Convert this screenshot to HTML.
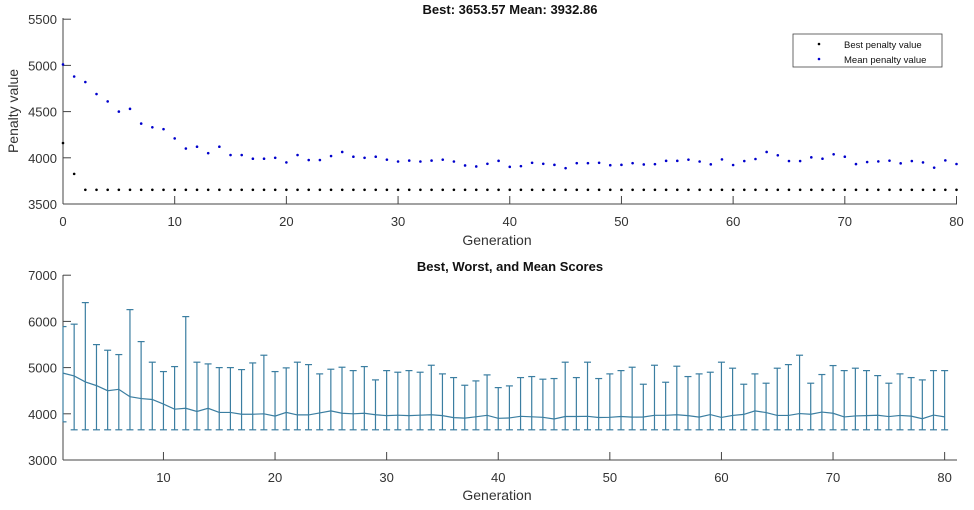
<!DOCTYPE html>
<html><head><meta charset="utf-8"><style>
html,body{margin:0;padding:0;background:#fff;}
svg text{font-family:"Liberation Sans",Arial,sans-serif;}
</style></head><body>
<svg id="s" width="974" height="505" viewBox="0 0 974 505" xmlns="http://www.w3.org/2000/svg">
<rect width="974" height="505" fill="#fff"/>
<text x="510" y="14" font-size="13" font-weight="bold" text-anchor="middle" fill="#111">Best: 3653.57 Mean: 3932.86</text>
<text x="510" y="271" font-size="13" font-weight="bold" text-anchor="middle" fill="#111">Best, Worst, and Mean Scores</text>
<text x="497" y="245" font-size="14" text-anchor="middle" fill="#333">Generation</text>
<text x="497" y="500" font-size="14" text-anchor="middle" fill="#333">Generation</text>
<text transform="translate(18,111) rotate(-90)" font-size="14" text-anchor="middle" fill="#333">Penalty value</text>
<g id="g"></g>
<rect x="793" y="34" width="149" height="33" fill="#fff" stroke="#444" stroke-width="0.8"/>
<circle cx="819" cy="44" r="1.3" fill="#000"/>
<circle cx="819" cy="59" r="1.3" fill="#00c"/>
<text x="844" y="48" font-size="9.5" fill="#111">Best penalty value</text>
<text x="844" y="63" font-size="9.5" fill="#111">Mean penalty value</text>
</svg>
<script>
var mean=[5010,4880,4820,4690,4610,4500,4530,4370,4330,4310,4210,4100,4120,4050,4120,4030,4030,3990,3990,4000,3950,4030,3976,3976,4019,4063,4012,4000,4012,3980,3960,3970,3960,3970,3980,3960,3917,3906,3935,3967,3902,3910,3946,3935,3924,3888,3942,3942,3946,3920,3924,3942,3928,3931,3967,3967,3980,3960,3929,3983,3922,3965,3987,4063,4027,3965,3965,4005,3990,4038,4012,3932,3954,3961,3969,3940,3965,3950,3893,3972,3933];
var worst=[0,5888,5940,6407,5498,5376,5282,6255,5563,5117,4914,5022,6104,5117,5080,5000,5000,4957,5101,5268,4914,4994,5117,5065,4864,4965,5008,4935,5022,4734,4935,4900,4935,4900,5051,4864,4784,4618,4712,4842,4567,4604,4784,4806,4749,4763,5117,4784,5117,4763,4864,4935,5008,4640,5051,4683,5030,4806,4864,4900,5117,4987,4640,4864,4662,4987,5065,5268,4662,4850,5044,4935,4987,4935,4827,4662,4864,4784,4734,4935,4935];
var best=function(g){return g==0?4160:(g==1?3826:3653.57);};
var h='';
var ax='#444',tc='#333';
// top axes
function tx(g){return 63+g*(956.5-63)/80;}
function ty(v){return 204-(v-3500)/500*46.2;}
h+='<line x1="63" y1="18" x2="63" y2="204" stroke="'+ax+'"/><line x1="63" y1="204" x2="957" y2="204" stroke="'+ax+'"/>';
for(var v=3500;v<=5500;v+=500){var y=ty(v);h+='<line x1="63" y1="'+y+'" x2="71" y2="'+y+'" stroke="'+ax+'"/><text x="57" y="'+(y+5)+'" font-size="13" text-anchor="end" fill="'+tc+'">'+v+'</text>';}
for(var g=0;g<=80;g+=10){var x=tx(g);h+='<line x1="'+x+'" y1="204" x2="'+x+'" y2="196" stroke="'+ax+'"/><text x="'+x+'" y="226" font-size="13" text-anchor="middle" fill="'+tc+'">'+g+'</text>';}
for(var g=0;g<=80;g++){h+='<circle cx="'+tx(g)+'" cy="'+ty(best(g))+'" r="1.3" fill="#000"/><circle cx="'+tx(g)+'" cy="'+ty(mean[g])+'" r="1.3" fill="#00c"/>';}
// bottom axes
function bx(g){return 63+(g-1)*11.16;}
function by(v){return 460-(v-3000)/1000*46.2;}
h+='<line x1="63" y1="275" x2="63" y2="460" stroke="'+ax+'"/><line x1="63" y1="460" x2="957" y2="460" stroke="'+ax+'"/>';
for(var v=3000;v<=7000;v+=1000){var y=by(v);h+='<line x1="63" y1="'+y+'" x2="71" y2="'+y+'" stroke="'+ax+'"/><text x="57" y="'+(y+5)+'" font-size="13" text-anchor="end" fill="'+tc+'">'+v+'</text>';}
for(var g=10;g<=80;g+=10){var x=bx(g);h+='<line x1="'+x+'" y1="460" x2="'+x+'" y2="452" stroke="'+ax+'"/><text x="'+x+'" y="482" font-size="13" text-anchor="middle" fill="'+tc+'">'+g+'</text>';}
var c='#3b7ea1',pts=[];
for(var g=1;g<=80;g++){var x=bx(g),yt=by(worst[g]),yb=by(best(g));
h+='<line x1="'+x+'" y1="'+yt+'" x2="'+x+'" y2="'+yb+'" stroke="'+c+'" stroke-width="1.2"/>';
h+='<line x1="'+Math.max(63,x-3.5)+'" y1="'+yt+'" x2="'+(x+3.5)+'" y2="'+yt+'" stroke="'+c+'" stroke-width="1.2"/>';
h+='<line x1="'+Math.max(63,x-3.5)+'" y1="'+yb+'" x2="'+(x+3.5)+'" y2="'+yb+'" stroke="'+c+'" stroke-width="1.2"/>';
pts.push(x+','+by(mean[g]));}
h+='<polyline points="'+pts.join(' ')+'" fill="none" stroke="'+c+'" stroke-width="1.2"/>';
document.getElementById('g').innerHTML=h;
</script>
</body></html>
